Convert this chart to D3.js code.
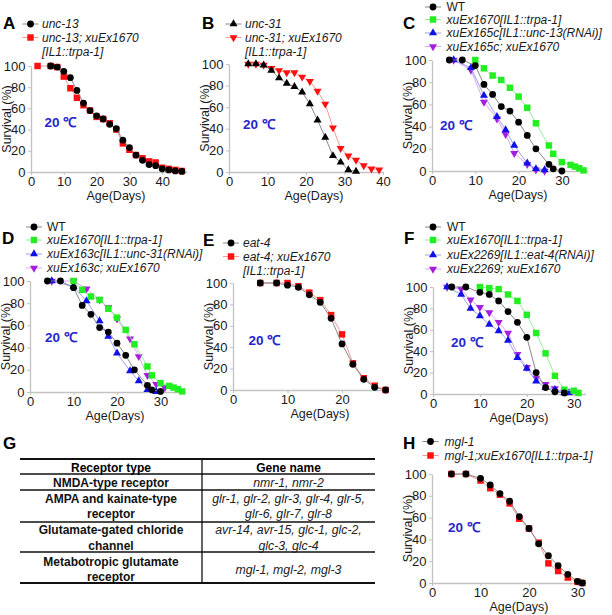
<!DOCTYPE html>
<html><head><meta charset="utf-8">
<script src="https://cdn.jsdelivr.net/npm/d3@7"></script>
<style>body{margin:0;background:#fff;} text{font-family:"Liberation Sans",Arial,sans-serif;}</style>
</head><body><svg id="c" width="612" height="615"></svg>
<script>
// ---------------- DATA ----------------
const yTicks = [0, 20, 40, 60, 80, 100];
const tempLabel = "20 ℃";
const yTitle = "Survival (%)";
const xTitle = "Age(Days)";

// Panel A
const aLegend = ["unc-13", "unc-13; xuEx1670"];
const aExtra = "[IL1::trpa-1]";
const aTicks = [0, 10, 20, 30, 40];
const aDaysBlack = [6, 8, 10, 12, 14, 16, 18, 20, 22, 24, 26, 28, 30, 32, 34, 36, 38, 40, 42, 44, 46];
const aBlack = [100, 99, 95, 89, 77, 65, 58, 53, 50, 45, 41, 30, 23, 16, 11, 7, 6, 3, 2, 1, 0.5];
const aDaysRed = [2, 6, 8, 10, 12, 14, 16, 18, 20, 22, 24, 26, 28, 30, 32, 34, 36, 38, 40, 42, 44, 46];
const aRed = [100, 100, 99, 90, 79, 70, 63, 58, 52, 50, 46, 40, 27, 21, 16, 13, 10, 9, 4, 3, 2, 1];

// Panel B
const bLegend = ["unc-31", "unc-31; xuEx1670"];
const bExtra = "[IL1::trpa-1]";
const bTicks = [0, 10, 20, 30, 40];
const bDaysBlack = [5, 7, 9, 11, 13, 15, 17, 19, 21, 23, 25, 27, 29, 31, 33];
const bBlack = [100, 100, 99, 94, 87, 82, 79, 74, 63, 48, 32, 15, 9, 2, 0.5];
const bDaysRed = [5, 7, 9, 11, 13, 15, 17, 19, 21, 23, 25, 27, 29, 31, 33, 35, 37, 39];
const bRed = [100, 100, 99, 96, 94, 92, 92, 88, 84, 75, 63, 41, 22, 15, 11, 6, 3, 2];

// Panel C
const cLegend = ["WT", "xuEx1670[IL1::trpa-1]", "xuEx165c[IL1::unc-13(RNAi)]", "xuEx165c; xuEx1670"];
const cTicks = [0, 10, 20, 30];
const cDaysWT = [4, 7, 10, 12, 14, 16, 18, 20, 22, 24, 27, 28, 30];
const cWT = [100, 100, 95, 78, 69, 58, 54, 44, 32, 20, 6, 2, 0];
const cDaysGreen = [10, 12, 14, 16, 18, 20, 22, 24, 27, 28, 30, 32, 33, 34, 35];
const cGreen = [100, 92.5, 86, 82, 75, 67, 57, 43, 23, 15.5, 8, 5.5, 4, 2.5, 0.5];
const cDaysBlue = [5, 9, 12, 15, 17, 19, 22, 24, 26];
const cBlue = [100, 93, 68, 49, 37, 23, 7, 2, 1];
const cDaysPurple = [5, 9, 12, 15, 17, 19, 22, 24, 26];
const cPurple = [100, 91, 62, 47, 33, 16, 6, 1, 0];

// Panel D
const dLegend = ["WT", "xuEx1670[IL1::trpa-1]", "xuEx163c[IL1::unc-31(RNAi)]", "xuEx163c; xuEx1670"];
const dTicks = [0, 10, 20, 30];
const dDaysWT = [4, 7, 10, 12, 14, 16, 18, 20, 22, 24, 27, 28, 30];
const dWT = [100, 100, 94, 78, 70, 58, 54, 44, 33, 20, 6, 2, 0.5];
const dDaysGreen = [10, 12, 14, 16, 18, 20, 22, 24, 27, 28, 30, 32, 33, 34, 35];
const dGreen = [100, 92, 86, 83, 75, 67, 56, 43, 23, 15, 8, 5.5, 4, 2.5, 0.5];
const dDaysBlue = [5, 10, 13, 16, 18, 20, 23, 25, 27, 29];
const dBlue = [100, 95, 82, 64, 50, 35, 19, 10, 2, 0.3];
const dDaysPurple = [5, 10, 13, 16, 18, 20, 23, 25, 27, 29, 31];
const dPurple = [100, 100, 93, 83, 76, 66, 48, 32, 15, 7, 4];

// Panel E
const eLegend = ["eat-4", "eat-4; xuEx1670"];
const eExtra = "[IL1::trpa-1]";
const eTicks = [0, 10, 20];
const eDays = [5, 8, 10, 12, 14, 16, 18, 20, 22, 24, 26, 28];
const eBlack = [100, 100, 98, 96, 89, 82, 67, 43, 24, 10, 2.5, 0];
const eRed = [100, 100, 100, 97, 91, 84, 70, 52, 25, 11, 4, 0];

// Panel F
const fLegend = ["WT", "xuEx1670[IL1::trpa-1]", "xuEx2269[IL1::eat-4(RNAi)]", "xuEx2269; xuEx1670"];
const fTicks = [0, 10, 20, 30];
const fDaysWT = [4, 7, 10, 12, 14, 16, 18, 20, 22, 24, 26, 28];
const fWT = [100, 100, 95, 93, 87, 77, 67, 53, 20, 6, 2, 1];
const fDaysGreen = [10, 12, 14, 16, 18, 20, 22, 24, 26, 28, 30, 31];
const fGreen = [100, 99, 98, 93, 87, 74, 57, 38, 17, 4, 3, 1];
const fDaysBlue = [3, 6, 8, 10, 12, 14, 16, 18, 20, 22, 24, 26, 28, 29];
const fBlue = [100, 93, 80, 73, 65, 59, 50, 34, 24, 12, 6, 4, 1, 1];
const fDaysPurple = [3, 6, 8, 10, 12, 14, 16, 18, 20, 22, 24, 26, 28];
const fPurple = [100, 98, 88, 81, 76, 67, 57, 37, 25, 15, 9, 5, 2];

// Panel H
const hLegend = ["mgl-1", "mgl-1;xuEx1670[IL1::trpa-1]"];
const hTicks = [0, 10, 20, 30];
const hDays = [4, 7, 10, 12, 14, 16, 18, 20, 22, 24, 26, 28, 30, 31];
const hBlack = [100, 100, 96, 90, 82, 75, 61, 50, 36, 25, 16, 8, 1.5, 0];
const hRed = [100, 100, 94, 87, 81, 73, 59, 50, 37, 18, 11, 5, 1, 0];

// Panel G (table)
const gHeader = ["Receptor type", "Gene name"];
const gTypes = [["NMDA-type receptor"], ["AMPA and kainate-type", "receptor"], ["Glutamate-gated chloride", "channel"], ["Metabotropic glutamate", "receptor"]];
const gGenes = [["nmr-1, nmr-2"], ["glr-1, glr-2, glr-3, glr-4, glr-5,", "glr-6, glr-7, glr-8"], ["avr-14, avr-15, glc-1, glc-2,", "glc-3, glc-4"], ["mgl-1, mgl-2, mgl-3"]];

// ---------------- STYLE ----------------
const FONT = '"Liberation Sans", Arial, sans-serif';
const COL = {
  black: { fill: "#000000", line: "#7a7a7a" },
  red: { fill: "#ff1010", line: "#f08c8c" },
  green: { fill: "#22ee22", line: "#8de88d" },
  blue: { fill: "#1010e8", line: "#9393ee" },
  purple: { fill: "#a41ee0", line: "#d4a0e6" }
};

const svg = d3.select("#c").attr("font-family", FONT);
svg.append("rect").attr("width", 612).attr("height", 615).attr("fill", "#fff");

function symPath(kind) {
  if (kind === "circle") return d3.symbol().type(d3.symbolCircle).size(36)();
  if (kind === "square") return d3.symbol().type(d3.symbolSquare).size(42)();
  return d3.symbol().type(d3.symbolTriangle).size(28)();
}
function marker(g, kind, x, y, color) {
  g.append("path").attr("d", symPath(kind)).attr("fill", color)
    .attr("transform", `translate(${x},${y})` + (kind === "tridown" ? " rotate(180)" : ""));
}

function drawPanel(L, series, legend, extra) {
  const g = svg.append("g");
  const x = d3.scaleLinear().domain([0, L.xmax]).range([L.x0, L.x0 + L.perDay * L.xmax]);
  const y = d3.scaleLinear().domain([0, 100]).range([L.yBot, L.yTop]);
  const ax = g.append("g").attr("transform", `translate(0,${L.yBot})`)
    .call(d3.axisBottom(x).tickValues(L.xticks).tickSize(3).tickSizeOuter(0).tickPadding(2));
  const ay = g.append("g").attr("transform", `translate(${L.x0},0)`)
    .call(d3.axisLeft(y).tickValues(yTicks).tickSize(3).tickSizeOuter(0).tickPadding(2.5));
  [ax, ay].forEach(a => {
    a.select(".domain").attr("stroke", "#c2c2c2").attr("stroke-width", 1.3);
    a.selectAll(".tick line").attr("stroke", "#c2c2c2");
    a.selectAll("text").attr("font-size", 13).attr("fill", "#1a1a1a").attr("font-family", FONT);
  });
  // titles
  g.append("text").attr("transform", `translate(${L.x0 - 20.5},${(L.yTop + L.yBot) / 2}) rotate(-90)`)
    .attr("text-anchor", "middle").attr("font-size", 12.5).attr("fill", "#1a1a1a").text(yTitle);
  g.append("text").attr("x", L.ageX).attr("y", L.yBot + 27.5).attr("text-anchor", "middle")
    .attr("font-size", 12.5).attr("fill", "#1a1a1a").text(xTitle);
  g.append("text").attr("x", L.lx).attr("y", L.ly).attr("font-size", 17).attr("font-weight", "bold").text(L.letter);
  g.append("text").attr("x", L.temp[0]).attr("y", L.temp[1] + 4.8).attr("text-anchor", "middle")
    .attr("font-size", 13.5).attr("font-weight", "bold").attr("fill", "#2626cc").text(tempLabel);
  // series (last legend item drawn first)
  const line = d3.line().x(d => x(d[0])).y(d => y(d[1]));
  series.slice().reverse().forEach(s => {
    const pts = s.days.map((d, i) => [d, s.vals[i]]);
    g.append("path").attr("d", line(pts)).attr("fill", "none").attr("stroke", COL[s.color].line).attr("stroke-width", 0.9);
    pts.forEach(p => marker(g, s.marker, x(p[0]), y(p[1]), COL[s.color].fill));
  });
  // legend
  series.forEach((s, i) => {
    const ry = L.legRows[i];
    g.append("line").attr("x1", L.legX - 8).attr("x2", L.legX + 8).attr("y1", ry).attr("y2", ry)
      .attr("stroke", COL[s.color].line).attr("stroke-width", 0.9);
    marker(g, s.marker, L.legX, ry, COL[s.color].fill);
    g.append("text").attr("x", L.legTextX).attr("y", ry + 4.4).attr("font-size", 12)
      .attr("font-style", legend[i] === "WT" ? "normal" : "italic").attr("fill", "#1a1a1a").text(legend[i]);
  });
  if (extra) {
    g.append("text").attr("x", L.legTextX).attr("y", L.extraY + 4.4).attr("font-size", 12)
      .attr("font-style", "italic").attr("fill", "#1a1a1a").text(extra);
  }
}

// ---------------- LAYOUT + DRAW ----------------
drawPanel({ letter: "A", lx: 3, ly: 29, x0: 31, perDay: 3.28, xmax: 47.5, yTop: 66, yBot: 172, xticks: aTicks,
  legX: 30.5, legTextX: 42, legRows: [24, 37.5], extraY: 52, temp: [60.5, 122], ageX: 116 },
  [{ days: aDaysBlack, vals: aBlack, marker: "circle", color: "black" },
   { days: aDaysRed, vals: aRed, marker: "square", color: "red" }], aLegend, aExtra);

drawPanel({ letter: "B", lx: 202, ly: 29, x0: 229, perDay: 3.85, xmax: 40, yTop: 64, yBot: 172, xticks: bTicks,
  legX: 233.5, legTextX: 245, legRows: [24, 37.5], extraY: 52, temp: [259, 124], ageX: 314 },
  [{ days: bDaysBlack, vals: bBlack, marker: "tri", color: "black" },
   { days: bDaysRed, vals: bRed, marker: "tridown", color: "red" }], bLegend, bExtra);

drawPanel({ letter: "C", lx: 403, ly: 29, x0: 432, perDay: 4.33, xmax: 36, yTop: 60, yBot: 171, xticks: cTicks,
  legX: 433, legTextX: 446.5, legRows: [7, 19.5, 33, 46.5], temp: [456, 125], ageX: 518 },
  [{ days: cDaysWT, vals: cWT, marker: "circle", color: "black" },
   { days: cDaysGreen, vals: cGreen, marker: "square", color: "green" },
   { days: cDaysBlue, vals: cBlue, marker: "tri", color: "blue" },
   { days: cDaysPurple, vals: cPurple, marker: "tridown", color: "purple" }], cLegend, null);

drawPanel({ letter: "D", lx: 2, ly: 244, x0: 30, perDay: 4.35, xmax: 35.5, yTop: 281, yBot: 392, xticks: dTicks,
  legX: 34, legTextX: 47, legRows: [227, 240, 254, 268], temp: [61, 337], ageX: 115 },
  [{ days: dDaysWT, vals: dWT, marker: "circle", color: "black" },
   { days: dDaysGreen, vals: dGreen, marker: "square", color: "green" },
   { days: dDaysBlue, vals: dBlue, marker: "tri", color: "blue" },
   { days: dDaysPurple, vals: dPurple, marker: "tridown", color: "purple" }], dLegend, null);

drawPanel({ letter: "E", lx: 203, ly: 246, x0: 233, perDay: 5.45, xmax: 28.5, yTop: 283, yBot: 390, xticks: eTicks,
  legX: 231, legTextX: 243, legRows: [243, 256.5], extraY: 270.5, temp: [264.5, 340], ageX: 320 },
  [{ days: eDays, vals: eBlack, marker: "circle", color: "black" },
   { days: eDays, vals: eRed, marker: "square", color: "red" }], eLegend, eExtra);

drawPanel({ letter: "F", lx: 404, ly: 244, x0: 433, perDay: 4.69, xmax: 32.5, yTop: 287, yBot: 394, xticks: fTicks,
  legX: 433, legTextX: 447, legRows: [227, 240, 255, 269], temp: [467, 342], ageX: 519 },
  [{ days: fDaysWT, vals: fWT, marker: "circle", color: "black" },
   { days: fDaysGreen, vals: fGreen, marker: "square", color: "green" },
   { days: fDaysBlue, vals: fBlue, marker: "tri", color: "blue" },
   { days: fDaysPurple, vals: fPurple, marker: "tridown", color: "purple" }], fLegend, null);

drawPanel({ letter: "H", lx: 403, ly: 449, x0: 432, perDay: 4.85, xmax: 31.5, yTop: 474, yBot: 583, xticks: hTicks,
  legX: 430.5, legTextX: 444.5, legRows: [441.5, 455.5], temp: [464, 527.5], ageX: 519 },
  [{ days: hDays, vals: hBlack, marker: "circle", color: "black" },
   { days: hDays, vals: hRed, marker: "square", color: "red" }], hLegend, null);

// ---------------- TABLE G ----------------
(function () {
  const g = svg.append("g");
  g.append("text").attr("x", 3).attr("y", 449).attr("font-size", 17).attr("font-weight", "bold").text("G");
  const left = 20, right = 375, mid = 202;
  const hl = [459, 474, 490, 522, 552, 583];
  hl.forEach((yy, i) => g.append("line").attr("x1", left).attr("x2", right).attr("y1", yy).attr("y2", yy)
    .attr("stroke", "#111").attr("stroke-width", (i === 0 || i === hl.length - 1) ? 1.8 : 1.5));
  g.append("line").attr("x1", mid).attr("x2", mid).attr("y1", hl[0]).attr("y2", hl[hl.length - 1]).attr("stroke", "#111").attr("stroke-width", 1.3);
  const cL = (left + mid) / 2, cR = (mid + right) / 2;
  g.append("text").attr("x", cL).attr("y", 472).attr("text-anchor", "middle").attr("font-size", 12).attr("font-weight", "bold").text(gHeader[0]);
  g.append("text").attr("x", cR).attr("y", 472).attr("text-anchor", "middle").attr("font-size", 12).attr("font-weight", "bold").text(gHeader[1]);
  const leftCenters = [[483], [499, 514], [530, 545.5], [561.5, 576.5]];
  const rightCenters = [[483], [499, 514], [530, 545.5], [569.5]];
  gTypes.forEach((lines, r) => lines.forEach((t, k) =>
    g.append("text").attr("x", cL).attr("y", leftCenters[r][k] + 4.3).attr("text-anchor", "middle")
      .attr("font-size", 12).attr("font-weight", "bold").attr("fill", "#111").text(t)));
  gGenes.forEach((lines, r) => lines.forEach((t, k) =>
    g.append("text").attr("x", cR).attr("y", rightCenters[r][k] + 4.3).attr("text-anchor", "middle")
      .attr("font-size", 12.3).attr("font-style", "italic").attr("fill", "#222").text(t)));
})();
</script></body></html>
